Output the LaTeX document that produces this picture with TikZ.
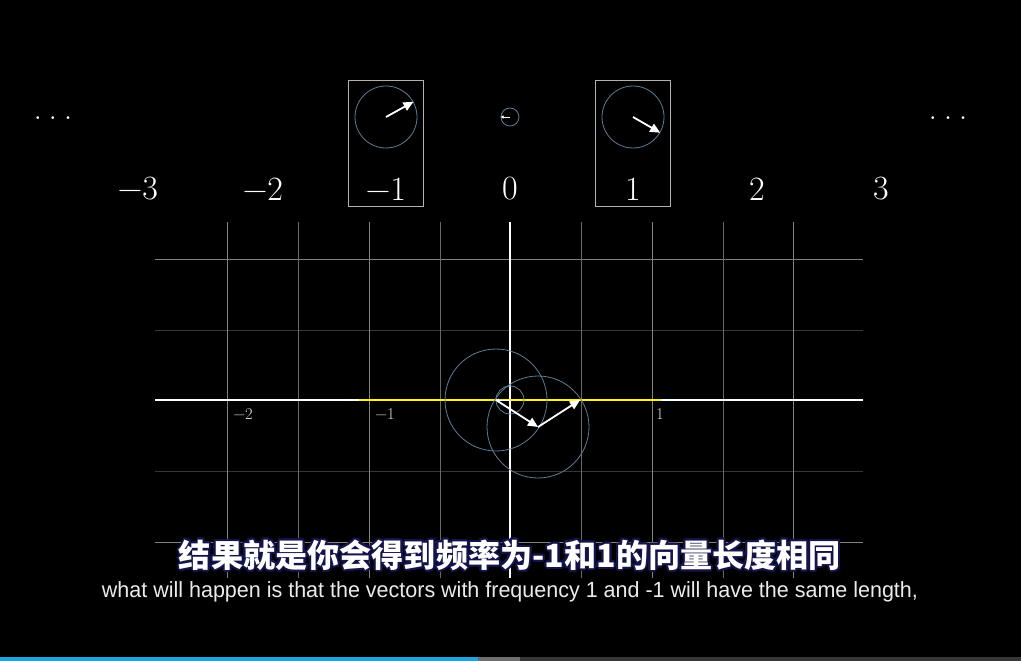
\documentclass[tikz,border=0pt]{standalone}
\usepackage{fontspec}
\usepackage{contour}
\usetikzlibrary{arrows.meta,positioning}
\newfontfamily\cjk{Noto Sans CJK SC}
\newfontfamily\subfont{Liberation Sans}
\newcommand\mn{\char"2212\relax}
\newcommand\tridots{\raisebox{9pt}{.\kern6.6pt.\kern6.6pt.}}
\definecolor{gridhi}{RGB}{130,130,130}
\definecolor{gridlo}{RGB}{55,55,55}
\definecolor{ringblue}{RGB}{95,125,150}
\definecolor{subnavy}{RGB}{20,20,75}
\definecolor{barblue}{RGB}{30,165,225}
\definecolor{barmid}{RGB}{110,110,110}
\definecolor{barrest}{RGB}{55,55,55}
\tikzset{
  numlabel/.style={text=white, font=\fontsize{34}{40}\selectfont},
  axislabel/.style={text=white!88!black, font=\fontsize{16.5}{20}\selectfont},
  freqbox/.style={draw=white!70!black, line width=1.5pt, minimum width=75pt, minimum height=126pt},
  ring/.style={circle, draw=ringblue, line width=0.8pt, inner sep=0pt},
  vec/.style={white, line width=1.8pt, -{Triangle[length=10pt,width=9pt]}},
}
\begin{document}
\begin{tikzpicture}[x=1pt,y=-1pt]
\fill[black] (0,0) rectangle (1021,661);
\useasboundingbox (0,0) rectangle (1021,661);

% Frequency row
\node[numlabel] (dl) at (53,122.5) {\tridots};
\node[numlabel] (dr) at (948,122.5) {\tridots};
\foreach \k/\t/\x in {m3/\mn3/138,m2/\mn2/263,m1/\mn1/386,z/0/510,p1/1/633,p2/2/757,p3/3/881}
  \node[numlabel] (n\k) at (\x,189) {\t};
\node[freqbox] (boxm) at (386,143.5) {};
\node[freqbox] (boxp) at (633,143.5) {};

% Rotating vectors
\node[ring, minimum size=62pt] (cm) at (386,117) {};
\node[ring, minimum size=18pt] (cz) at (510,117) {};
\node[ring, minimum size=62pt] (cp) at (633,117) {};
\draw[vec] (cm.center) -- (cm.29);
\draw[white, line width=0.7pt, -{Triangle[length=3pt,width=3pt]}] (cz.center) -- (cz.180);
\draw[vec] (cp.center) -- (cp.-30);

% Plane
\foreach \y in {330,471}
  \draw[gridlo, line width=0.8pt] (155,\y) -- (863,\y);
\foreach \y in {259,542}
  \draw[gridhi, line width=0.8pt] (155,\y) -- (863,\y);
\foreach \x in {298,440,581,723}
  \draw[gridhi!80!black, line width=0.8pt] (\x,222) -- (\x,578);
\foreach \x in {227,369,652,793}
  \draw[gridhi, line width=0.8pt] (\x,222) -- (\x,578);
\draw[white, line width=1.3pt] (155,400) -- (863,400);
\draw[white, line width=1.3pt] (510,222) -- (510,578);
\draw[yellow!90!white, line width=1.3pt] (359,400) -- (661,400);
\node[axislabel] (lm2) at (243,414) {\mn2};
\node[axislabel] (lm1) at (385,414) {\mn1};
\node[axislabel] (lp1) at (660,414) {1};

% Vector chain
\coordinate (o) at (510,400);
\coordinate (p1) at (496,400);
\coordinate (p2) at (538,427);
\coordinate (p3) at (580,400);
\node[ring, minimum size=28pt] (r0) at (o) {};
\node[ring, minimum size=102pt] (r1) at (p1) {};
\node[ring, minimum size=102pt] (r2) at (p2) {};
\draw[white, line width=0.7pt, -{Triangle[length=3pt,width=3pt]}] (o) -- (p1);
\draw[vec] (p1) -- (p2);
\draw[vec] (p2) -- (p3);

% Subtitles
\node (zh) at (510,556) {\cjk\bfseries\fontsize{32}{36}\selectfont\contourlength{2pt}%
  \resizebox{662pt}{\height}{\contour{subnavy}{\color{white}结果就是你会得到频率为-1和1的向量长度相同}}};
\node[text=white!92!black] (en) at (510,592) {\subfont\fontsize{22}{26}\selectfont%
  \resizebox{816pt}{\height}{what will happen is that the vectors with frequency 1 and -1 will have the same length,}};

% Progress bar
\fill[barblue] (0,657) rectangle (478,661);
\fill[barmid] (478,657) rectangle (520,661);
\fill[barrest] (520,657) rectangle (1021,661);
\end{tikzpicture}
\end{document}
